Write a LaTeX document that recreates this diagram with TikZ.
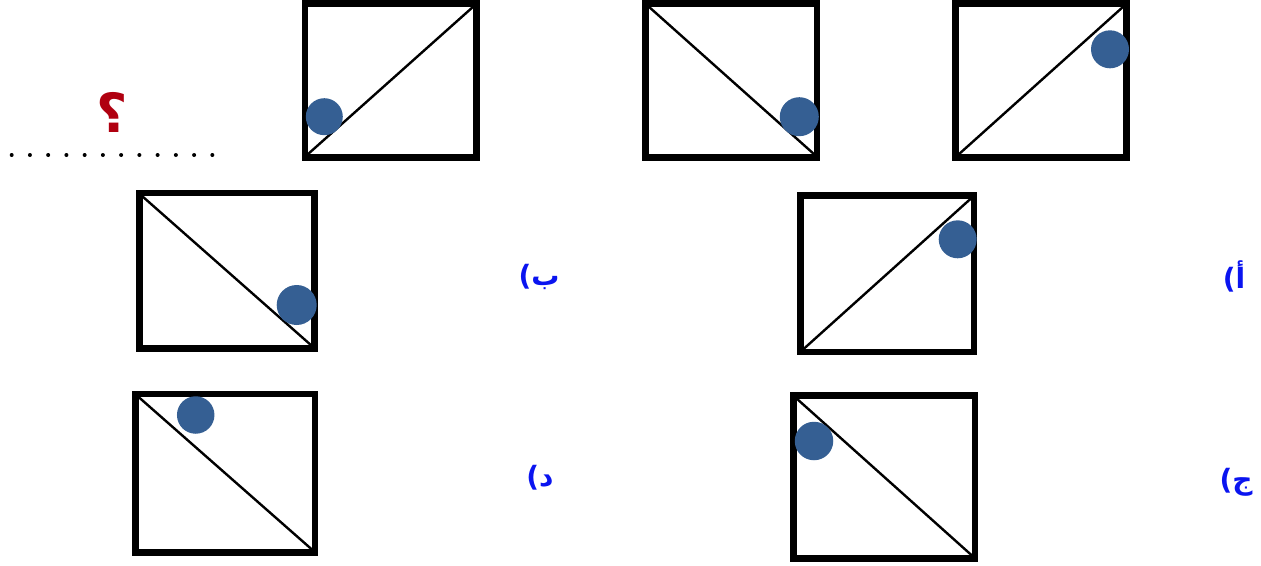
\documentclass[tikz,border=0pt]{standalone}
\usepackage{fontspec}
\TeXXeTstate=1
\newfontfamily\arabicfont[Script=Arabic]{DejaVu Sans}
\newfontfamily\parenfont{DejaVu Sans}
\definecolor{ballblue}{HTML}{355F93}
\definecolor{qred}{HTML}{B00010}
\definecolor{lblblue}{HTML}{0A14F0}
\newcommand{\optlbl}[1]{{\parenfont\bfseries(}{\arabicfont\bfseries\beginR #1\endR}}
\tikzset{
  framebox/.style={draw=black, line width=6.5pt, line join=miter},
  diag/.style={draw=black, line width=2.4pt},
  ball/.style={circle, fill=ballblue, draw=none, inner sep=0pt},
  optlabel/.style={text=lblblue, font=\fontsize{28}{32}\selectfont, inner sep=0pt},
  dotmark/.style={circle, fill=black, inner sep=0pt, minimum size=4pt}
}
\begin{document}
\begin{tikzpicture}[x=1pt,y=-1pt]
\useasboundingbox (0,0) rectangle (1261,565);
% top row
\draw[framebox] (304.8,3.5) rectangle (476.3,157.5);
\draw[diag] (307,155) -- (474,6);
\node[ball, minimum size=37pt] (b1) at (324.3,116.7) {};

\draw[framebox] (645.5,3.5) rectangle (817,157.5);
\draw[diag] (648,6) -- (815,155);
\node[ball, minimum size=39pt] (b2) at (799.3,116.7) {};

\draw[framebox] (955.5,3.5) rectangle (1126.3,157.5);
\draw[diag] (958,155) -- (1124,6);
\node[ball, minimum size=38pt] (b3) at (1110,49.3) {};

% middle row
\draw[framebox] (139.5,193) rectangle (314.7,348.7);
\draw[diag] (142,196) -- (312,346);
\node[ball, minimum size=40pt] (b4) at (296.7,305) {};

\draw[framebox] (800.3,195.3) rectangle (974,352);
\draw[diag] (803,349.5) -- (971.5,198);
\node[ball, minimum size=38pt] (b5) at (957.7,239.3) {};

% bottom row
\draw[framebox] (135.3,393.8) rectangle (315,552.5);
\draw[diag] (138,396.5) -- (312.5,550);
\node[ball, minimum size=37.5pt] (b6) at (195.7,415) {};

\draw[framebox] (793.3,395.3) rectangle (975.2,558.7);
\draw[diag] (796,398) -- (972.5,556);
\node[ball, minimum size=38.5pt] (b7) at (814,441) {};

% labels
\node[optlabel] (lb) at (539,277) {\optlbl{ب}};
\node[optlabel] (la) at (1234,276) {\optlbl{أ}};
\node[optlabel] (ld) at (540,478) {\optlbl{د}};
\node[optlabel] (lj) at (1236,482) {\optlbl{ج}};

% question mark
\node[text=qred, font=\arabicfont\bfseries\fontsize{54}{58}\selectfont, inner sep=0pt] (q) at (112,112) {\beginR ؟\endR};

% dots
\foreach \i in {0,...,11}
  \node[dotmark] (d\i) at ({11.7+18.24*\i},155) {};
\end{tikzpicture}
\end{document}
